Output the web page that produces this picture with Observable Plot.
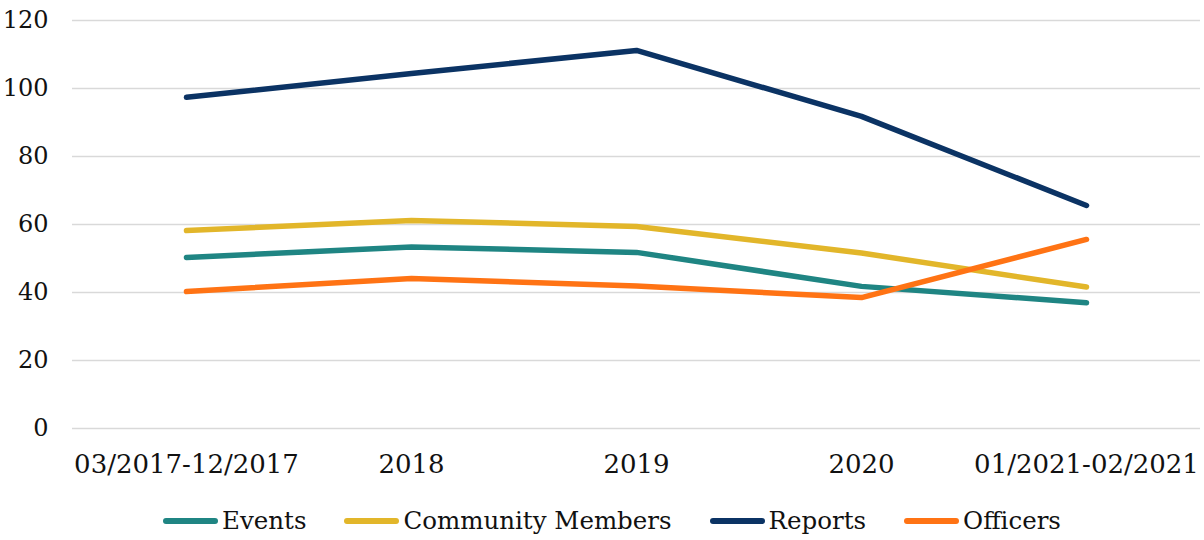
<!DOCTYPE html>
<html>
<head>
<meta charset="utf-8">
<script src="https://cdn.jsdelivr.net/npm/d3@7"></script>
<script src="https://cdn.jsdelivr.net/npm/@observablehq/plot@0.6"></script>
<style>
  html, body { margin: 0; padding: 0; background: #fff; }
  body { width: 1204px; font-family: "DejaVu Serif", serif; }
  #legend { display: flex; justify-content: center; align-items: center; gap: 38px; font-size: 24.5px; color: #111; margin-top: 16px; padding-left: 20px; }
  .item { display: flex; align-items: center; }
  .sw { width: 55px; height: 6px; border-radius: 3px; margin-right: 4px; }
</style>
</head>
<body>
<div id="chart"></div>
<div id="legend"></div>
<script>
const periods = ["03/2017-12/2017", "2018", "2019", "2020", "01/2021-02/2021"];
const seriesNames = ["Events", "Community Members", "Reports", "Officers"];
const colors = ["#1f8583", "#e2b62a", "#0b3364", "#ff7314"];
const events = [50.3, 53.4, 51.8, 41.8, 37.0];
const community = [58.2, 61.2, 59.4, 51.6, 41.6];
const reports = [97.4, 104.4, 111.2, 91.8, 65.6];
const officers = [40.3, 44.1, 41.9, 38.5, 55.6];
const yTicks = [0, 20, 40, 60, 80, 100, 120];

const valuesBySeries = [events, community, reports, officers];
const data = [];
seriesNames.forEach((s, i) => periods.forEach((p, j) => data.push({series: s, period: p, value: valuesBySeries[i][j]})));

const chart = Plot.plot({
  width: 1204,
  height: 490,
  marginTop: 20,
  marginBottom: 62,
  marginLeft: 72,
  marginRight: 4,
  style: {fontFamily: "DejaVu Serif, serif", fontSize: "24px", color: "#111", background: "#fff"},
  x: {type: "point", domain: periods, padding: 0.5, label: null},
  y: {domain: [0, 120], label: null},
  marks: [
    Plot.ruleY(yTicks, {stroke: "#d9d9d9", strokeWidth: 1.6}),
    Plot.axisY({ticks: yTicks, tickSize: 0, tickPadding: 24, label: null, fontSize: 24}),
    Plot.axisX({tickSize: 0, tickPadding: 26, label: null, fontSize: 26}),
    Plot.line(data, {x: "period", y: "value", z: "series", stroke: "series", strokeWidth: 5.5, strokeLinecap: "round", strokeLinejoin: "round"})
  ],
  color: {domain: seriesNames, range: colors}
});
document.getElementById("chart").appendChild(chart);

const legend = document.getElementById("legend");
seriesNames.forEach((s, i) => {
  const it = document.createElement("div");
  it.className = "item";
  const sw = document.createElement("span");
  sw.className = "sw";
  sw.style.background = colors[i];
  const t = document.createElement("span");
  t.textContent = s;
  it.appendChild(sw); it.appendChild(t);
  legend.appendChild(it);
});
</script>
</body>
</html>
